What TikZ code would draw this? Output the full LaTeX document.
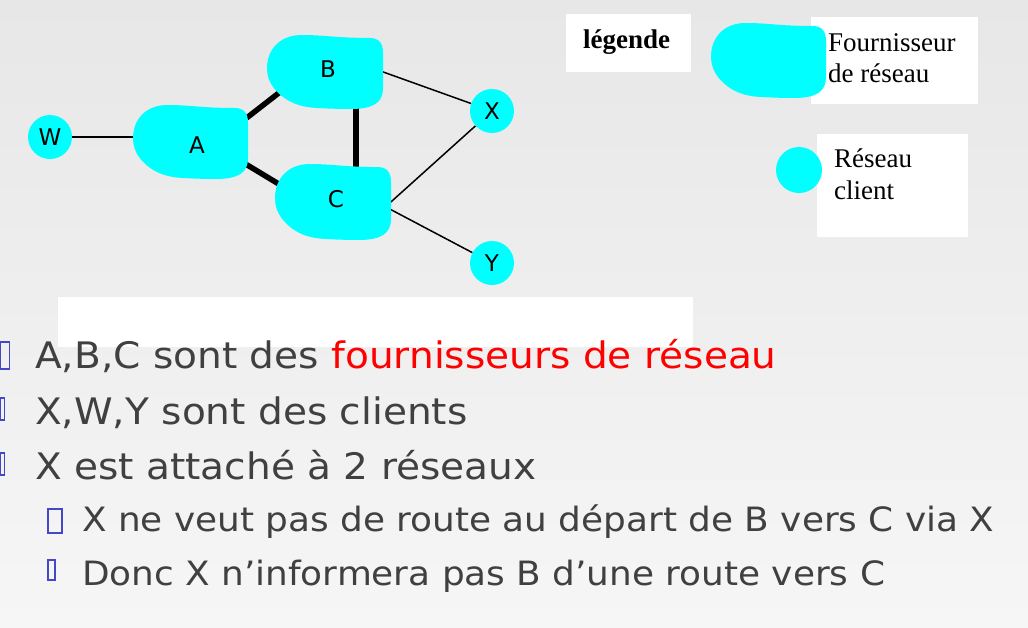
\documentclass[tikz,border=0pt]{standalone}
\usepackage{fontspec}
\setmainfont{Liberation Serif}
\newfontfamily\slidefont[FakeStretch=1.07]{DejaVu Sans}
\newfontfamily\labelfont{DejaVu Sans}
\usepackage{tikz}
\usetikzlibrary{calc}
\pgfdeclarelayer{backdrop}
\pgfdeclarelayer{links}
\pgfsetlayers{backdrop,links,main}
\definecolor{provcyan}{HTML}{00FFFF}
\definecolor{provred}{HTML}{FF0000}
\definecolor{slidetext}{HTML}{404040}
\definecolor{tofublue}{HTML}{4646C8}
\definecolor{pagetop}{HTML}{E7E7E7}
\definecolor{pagebottom}{HTML}{F6F6F6}
\tikzset{
	thinlink/.style={line width=1.5pt, black},
	thicklink/.style={line width=5.5pt, black},
	intoblob/.style={shorten <=-7pt},
	clientnet/.style={circle, fill=provcyan, minimum size=44pt, inner sep=0pt,
		font=\labelfont\fontsize{23}{26}\selectfont},
	provnet/.style={rectangle, inner sep=0pt, font=\labelfont\fontsize{23}{26}\selectfont},
	legbox/.style={fill=white, inner sep=0pt, anchor=north west},
	legtext/.style={inner sep=0pt, anchor=base west, align=flush left,
		font=\fontsize{27}{31}\selectfont},
	slideline/.style={anchor=base west, inner sep=0pt, text=slidetext,
		font=\slidefont\fontsize{36.5}{40}\selectfont},
	subline/.style={slideline, font=\slidefont\fontsize{33.5}{38}\selectfont},
	tofu/.style={draw=tofublue, line width=1.2pt}
}
% cloud shaped provider network, box given by corner and size
\newcommand{\provblob}[4]{%
	\fill[provcyan, shift={(#1,#2)}, xscale=#3, yscale=#4]
	(0,.45) .. controls (0,.18) and (.12,0) .. (.3,0)
	.. controls (.5,0) and (.6,.04) .. (.88,.04)
	.. controls (.96,.04) and (1,.1) .. (1,.24)
	-- (1,.72)
	.. controls (1,.9) and (.93,1) .. (.72,1)
	.. controls (.6,1) and (.45,.99) .. (.38,.98)
	.. controls (.22,.95) and (.13,.85) .. (.06,.72)
	.. controls (.02,.64) and (0,.55) .. cycle;}

\begin{document}
\begin{tikzpicture}[x=1pt, y=-1pt]
	
	%% -- Page and white boxes
	\useasboundingbox (0,0) rectangle (1028,627);
	\begin{pgfonlayer}{backdrop}
		\shade[top color=pagetop, bottom color=pagebottom] (0,0) rectangle (1028,627);
		\node[legbox, minimum width=125pt, minimum height=58pt] (titlebox) at (566,14) {};
		\node[legbox, minimum width=167pt, minimum height=87pt] (provbox) at (811,17) {};
		\node[legbox, minimum width=151pt, minimum height=103pt] (clientbox) at (817,134) {};
		\node[legbox, minimum width=635pt, minimum height=50pt] (slidebox) at (58,297) {};
	\end{pgfonlayer}
	
	%% -- Provider networks
	\provblob{133}{105}{115}{74}
	\provblob{267}{35}{116}{74}
	\provblob{275}{164}{116}{76}
	\provblob{711}{23}{115}{75}
	
	\node[provnet, minimum width=115pt, minimum height=74pt] (A) at (197,145) {A};
	\node[provnet, minimum width=116pt, minimum height=74pt] (B) at (328,69) {B};
	\node[provnet, minimum width=116pt, minimum height=76pt] (C) at (336,199) {C};
	
	%% -- Client networks
	\node[clientnet] (W) at (50,137) {W};
	\node[clientnet] (X) at (492,111) {X};
	\node[clientnet] (Y) at (492,263) {Y};
	\node[clientnet, minimum size=46pt] (legclient) at (799,170) {};
	
	%% -- Links (under the clouds)
	\begin{pgfonlayer}{links}
		\draw[thinlink] (W.east) -- (W.east -| A.west);
		\draw[thicklink, shorten <=-16pt, shorten >=-16pt] (A.30) -- (B.208);
		\draw[thicklink, shorten <=-12pt, shorten >=-12pt] (A.-23) -- (C.165);
		\draw[thicklink, shorten <=-6pt, shorten >=-6pt] (B.-53) -- (B.-53 |- C.north);
		\draw[thinlink, intoblob] (B.-4) -- (X);
		\draw[thinlink, intoblob] (C.east) -- (X);
		\draw[thinlink, intoblob] (C.-12) -- (Y);
	\end{pgfonlayer}
	
	%% -- Legend texts
	\node[legtext, font=\bfseries\fontsize{27}{31}\selectfont] (legtitle) at (583,48) {légende};
	\node[legtext, text width=145pt] (provtext) at (828,51) {Fournisseur\\de réseau};
	\node[legtext, text width=130pt, font=\fontsize{27}{32}\selectfont] (clienttext) at (834,167) {Réseau\\client};
	
	%% -- Bullet lines
	\node[slideline] (ln1) at (35,368) {A,B,C sont des \textcolor{provred}{fournisseurs de réseau}};
	\node[slideline] (ln2) at (35,424) {X,W,Y sont des clients};
	\node[slideline] (ln3) at (35,479) {X est attaché à 2 réseaux};
	\node[subline] (ln4) at (82,531) {X ne veut pas de route au départ de B vers C via X};
	\node[subline] (ln5) at (82,585) {Donc X n’informera pas B d’une route vers C};
	
	\foreach \x/\y/\w/\h in {0.8/342/9/27, 0.8/398/3.5/22, 0.8/453/3.5/22, 48/509/14/24, 48/560/7/20}
	\draw[tofu] (\x,\y) rectangle ++(\w,\h);
	
\end{tikzpicture}
\end{document}
